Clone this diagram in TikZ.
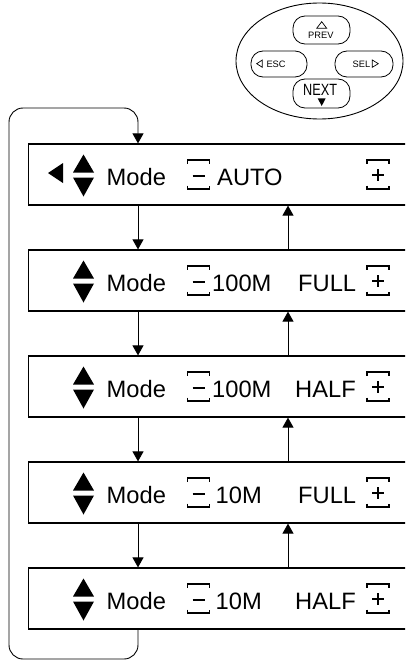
\documentclass[tikz,border=0pt]{standalone}
\usepackage{fontspec}
\setmainfont{Liberation Sans}
\usetikzlibrary{arrows.meta,shapes.geometric}
\begin{document}
\begin{tikzpicture}[x=1pt,y=-1pt,
  modebox/.style={draw, line width=1.2pt, minimum width=390pt, minimum height=61pt, inner sep=0pt, anchor=west},
  lbl/.style={font=\fontsize{23.7}{28}\selectfont, inner sep=0pt, anchor=base west},
  small/.style={font=\fontsize{9.3}{11}\selectfont, inner sep=0pt, anchor=base west},
  conn/.style={line width=0.9pt, -{Triangle[width=11pt,length=10pt]}},
  btn/.style={draw, line width=0.8pt, rounded corners=12pt, inner sep=0pt},
  updown/.pic={
    \fill (0,-20) -- (10.5,-2) -- (-10.5,-2) -- cycle;
    \fill (-10.5,3) -- (10.5,3) -- (0,22) -- cycle;
  },
  brk/.pic={
    \draw[line width=1.4pt] (-11,-11) -- (-11,-14.5) -- (11,-14.5) -- (11,-11);
    \draw[line width=1.4pt] (-11,11) -- (-11,14.5) -- (11,14.5) -- (11,11);
  },
  minusicon/.pic={
    \pic {brk};
    \draw[line width=1.3pt] (-6,1.5) -- (6,1.5);
  },
  plusicon/.pic={
    \pic {brk};
    \draw[line width=1.3pt] (-6,0.5) -- (6,0.5) (0,-5.5) -- (0,6.5);
  }
]
\clip (0,0) rectangle (405,661);

% ---- keypad ----
\node[draw, ellipse, line width=0.9pt, minimum width=167pt, minimum height=116pt, inner sep=0pt] (pad) at (319.5,61) {};
\node[btn, minimum width=57pt, minimum height=28pt] (prev) at (321.5,30) {};
\node[btn, minimum width=56pt, minimum height=26pt] (esc) at (279,64) {};
\node[btn, minimum width=58pt, minimum height=26pt] (sel) at (364,64) {};
\node[btn, minimum width=57pt, minimum height=29pt] (next) at (321.5,93.5) {};
\draw[line width=0.7pt, line join=miter] (321.7,21.7) -- (326.7,28.3) -- (316.7,28.3) -- cycle;
\node[small] (prevt) at (308,39) {PREV};
\draw[line width=0.7pt, line join=miter] (256.7,63.7) -- (262.3,60) -- (262.3,67.3) -- cycle;
\node[small] (esct) at (266.3,67.3) {ESC};
\node[small] (selt) at (352.5,67.3) {SEL};
\draw[line width=0.7pt, line join=miter] (378.3,63.7) -- (372.3,60) -- (372.3,67.3) -- cycle;
\node[inner sep=0pt, anchor=base west, font=\fontsize{16.3}{18}\selectfont] (nextt) at (303,95.7) {\scalebox{0.78}[1]{NEXT}};
\fill (317.7,98.3) -- (325.7,98.3) -- (321.7,106) -- cycle;

% ---- mode boxes ----
\node[modebox] (b1) at (28,174.5) {};
\node[modebox] (b2) at (28,280.5) {};
\node[modebox] (b3) at (28,386.5) {};
\node[modebox] (b4) at (28,492.5) {};
\node[modebox] (b5) at (28,598.5) {};

% row 1
\fill (48,173) -- (63,163) -- (63,183) -- cycle;
\pic at (83.5,174.5) {updown};
\node[lbl] (mode1) at (106.5,185.5) {Mode};
\pic at (198.5,174.5) {minusicon};
\node[lbl] (val1) at (217,185.5) {AUTO};
\pic at (378,174.5) {plusicon};
% row 2
\pic at (83.5,280.5) {updown};
\node[lbl] (mode2) at (106.5,291.5) {Mode};
\pic at (198.5,280.5) {minusicon};
\node[lbl] (val2) at (212,291.5) {100M};
\node[lbl] (dup2) at (298,291.5) {FULL};
\pic at (378,280.5) {plusicon};
% row 3
\pic at (83.5,386.5) {updown};
\node[lbl] (mode3) at (106.5,397.5) {Mode};
\pic at (198.5,386.5) {minusicon};
\node[lbl] (val3) at (212,397.5) {100M};
\node[lbl] (dup3) at (295,397.5) {HALF};
\pic at (378,386.5) {plusicon};
% row 4
\pic at (83.5,492.5) {updown};
\node[lbl] (mode4) at (106.5,503.5) {Mode};
\pic at (198.5,492.5) {minusicon};
\node[lbl] (val4) at (215.5,503.5) {10M};
\node[lbl] (dup4) at (298,503.5) {FULL};
\pic at (378,492.5) {plusicon};
% row 5
\pic at (83.5,598.5) {updown};
\node[lbl] (mode5) at (106.5,609.5) {Mode};
\pic at (198.5,598.5) {minusicon};
\node[lbl] (val5) at (215.5,609.5) {10M};
\node[lbl] (dup5) at (295,609.5) {HALF};
\pic at (378,598.5) {plusicon};

% ---- connectors ----
\coordinate (dx) at (138,0);
\coordinate (ux) at (288,0);
\foreach \a/\b in {b1/b2,b2/b3,b3/b4,b4/b5} {
  \draw[conn] (\a.south -| dx) -- (\b.north -| dx);
  \draw[conn] (\b.north -| ux) -- (\a.south -| ux);
}
\coordinate (lbr) at (138,659);
\coordinate (lbl) at (9,659);
\coordinate (ltl) at (9,108);
\coordinate (ltr) at (138,108);
\draw[conn, rounded corners=14pt] (b5.south -| dx) -- (lbr) -- (lbl) -- (ltl) -- (ltr) -- (b1.north -| dx);
\end{tikzpicture}
\end{document}
